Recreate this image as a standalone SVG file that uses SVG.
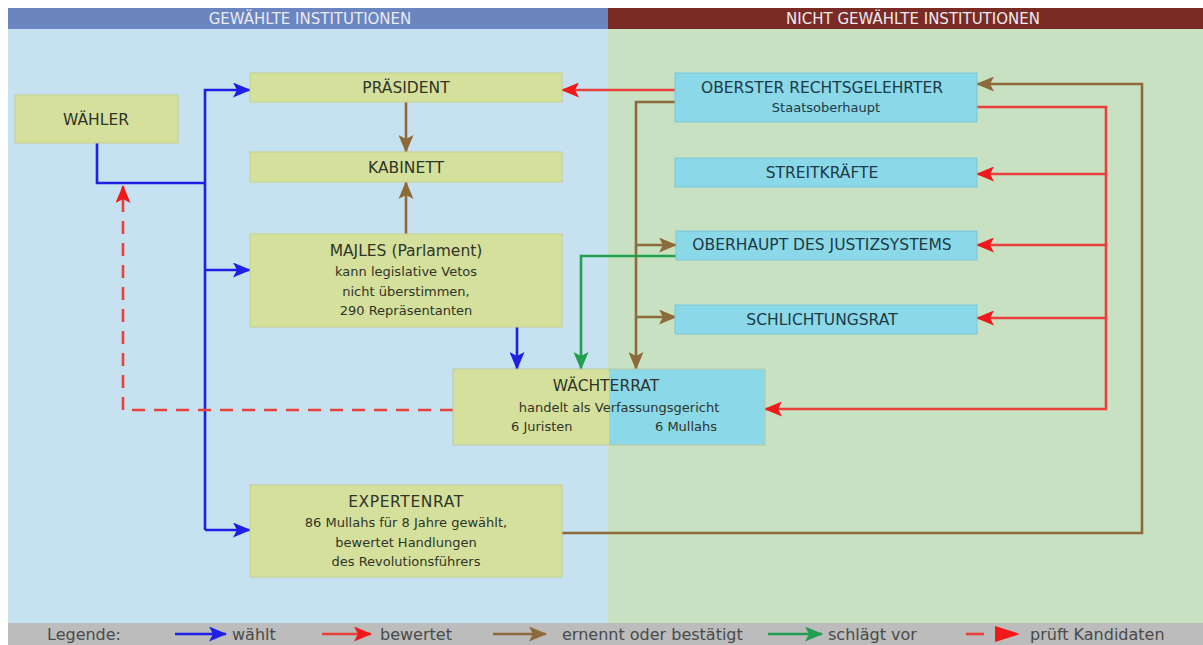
<svg xmlns="http://www.w3.org/2000/svg" width="1203" height="645" viewBox="0 0 1203 645">
<style>
  text { font-family: "DejaVu Sans", "Liberation Sans", sans-serif; }
  .ttl { font-size: 15.5px; fill: #2f3529; text-anchor: middle; }
  .sub { font-size: 13px; fill: #2f3529; text-anchor: middle; }
  .ttlc { font-size: 15.5px; fill: #1d3a46; text-anchor: middle; }
  .subc { font-size: 13px; fill: #1d3a46; text-anchor: middle; }
  .hdr { font-size: 15px; fill: #eceaf2; text-anchor: middle; }
  .leg { font-size: 16px; fill: #4a4a4a; }
  .ybox { fill: #d5e09c; stroke: #c6d08c; stroke-width: 1; }
  .cbox { fill: #8ad8e8; stroke: #7cc6d6; stroke-width: 1; }
  .c { fill: none; stroke-width: 2.6; }
  .blue { stroke: #1f1fe6; }
  .red { stroke: #e8403a; }
  .brown { stroke: #8c6a3a; }
  .green { stroke: #22a050; }
</style>
<defs>
  <marker id="ab" viewBox="0 0 18 15" markerWidth="18" markerHeight="15" refX="17" refY="7.5" orient="auto" markerUnits="userSpaceOnUse"><path d="M0,0 L18,7.5 L0,15 L4,7.5 Z" fill="#1f1fe6"/></marker>
  <marker id="ar" viewBox="0 0 18 15" markerWidth="18" markerHeight="15" refX="17" refY="7.5" orient="auto" markerUnits="userSpaceOnUse"><path d="M0,0 L18,7.5 L0,15 L4,7.5 Z" fill="#f01818"/></marker>
  <marker id="an" viewBox="0 0 18 15" markerWidth="18" markerHeight="15" refX="17" refY="7.5" orient="auto" markerUnits="userSpaceOnUse"><path d="M0,0 L18,7.5 L0,15 L4,7.5 Z" fill="#8c6a3a"/></marker>
  <marker id="ag" viewBox="0 0 18 15" markerWidth="18" markerHeight="15" refX="17" refY="7.5" orient="auto" markerUnits="userSpaceOnUse"><path d="M0,0 L18,7.5 L0,15 L4,7.5 Z" fill="#22a050"/></marker>
</defs>

<rect x="0" y="0" width="1203" height="645" fill="#ffffff"/>
<g id="background">
  <rect x="8" y="29" width="600" height="594" fill="#c6e2f0"/>
  <rect x="608" y="29" width="595" height="594" fill="#c9e1c3"/>
  <rect x="8" y="8" width="600" height="21" fill="#6a85c0"/>
  <rect x="608" y="8" width="595" height="21" fill="#7a2b23"/>
  <text class="hdr" x="310" y="24">GEWÄHLTE INSTITUTIONEN</text>
  <text class="hdr" x="913" y="24">NICHT GEWÄHLTE INSTITUTIONEN</text>
</g>

<g id="connectors">
  <!-- blue: wählt -->
  <path class="c blue" d="M97,143 V183 H205"/>
  <path class="c blue" d="M205,530 V90 H250" marker-end="url(#ab)"/>
  <path class="c blue" d="M205,270 H250" marker-end="url(#ab)"/>
  <path class="c blue" d="M205,530 H250" marker-end="url(#ab)"/>
  <path class="c blue" d="M517,327 V369" marker-end="url(#ab)"/>
  <!-- red dashed: prüft Kandidaten -->
  <path class="c red" d="M453,410 H123 V186" stroke-dasharray="13,9" stroke-width="3" marker-end="url(#ar)"/>
  <!-- brown: ernennt -->
  <path class="c brown" d="M406,102 V152" marker-end="url(#an)"/>
  <path class="c brown" d="M406,234 V182" marker-end="url(#an)"/>
  <path class="c brown" d="M675,102 H636 V369" marker-end="url(#an)"/>
  <path class="c brown" d="M636,245 H676" marker-end="url(#an)"/>
  <path class="c brown" d="M636,317 H676" marker-end="url(#an)"/>
  <path class="c brown" d="M562,533 H1142 V84 H977" marker-end="url(#an)"/>
  <!-- red: bewertet -->
  <path class="c red" d="M675,90 H562" marker-end="url(#ar)"/>
  <path class="c red" d="M977,107 H1106 V409 H765" marker-end="url(#ar)"/>
  <path class="c red" d="M1106,174 H977" marker-end="url(#ar)"/>
  <path class="c red" d="M1106,245 H977" marker-end="url(#ar)"/>
  <path class="c red" d="M1106,318 H977" marker-end="url(#ar)"/>
  <!-- green: schlägt vor -->
  <path class="c green" d="M676,256 H581 V369" marker-end="url(#ag)"/>
</g>

<g id="waehler">
  <rect class="ybox" x="15" y="95" width="163" height="48"/>
  <text class="ttl" x="96" y="125">WÄHLER</text>
</g>
<g id="praesident">
  <rect class="ybox" x="250" y="73" width="312" height="29"/>
  <text class="ttl" x="406" y="93">PRÄSIDENT</text>
</g>
<g id="kabinett">
  <rect class="ybox" x="250" y="152" width="312" height="30"/>
  <text class="ttl" x="406" y="173">KABINETT</text>
</g>
<g id="majles">
  <rect class="ybox" x="250" y="234" width="312" height="93"/>
  <text class="ttl" x="406" y="256">MAJLES (Parlament)</text>
  <text class="sub" x="406" y="276">kann legislative Vetos</text>
  <text class="sub" x="406" y="296">nicht überstimmen,</text>
  <text class="sub" x="406" y="315">290 Repräsentanten</text>
</g>
<g id="waechterrat">
  <rect x="453" y="369" width="156" height="76" fill="#d5e09c"/>
  <rect x="609" y="369" width="156" height="76" fill="#8ad8e8"/>
  <rect x="453" y="369" width="312" height="76" fill="none" stroke="#b8c8a0" stroke-width="1"/>
  <text class="ttl" x="606" y="391">WÄCHTERRAT</text>
  <text class="sub" x="619" y="412">handelt als Verfassungsgericht</text>
  <text class="sub" x="511" y="431" style="text-anchor:start">6 Juristen</text>
  <text class="sub" x="655" y="431" style="text-anchor:start">6 Mullahs</text>
</g>
<g id="expertenrat">
  <rect class="ybox" x="250" y="485" width="312" height="92"/>
  <text class="ttl" x="406" y="507" letter-spacing="0.6">EXPERTENRAT</text>
  <text class="sub" x="406" y="527">86 Mullahs für 8 Jahre gewählt,</text>
  <text class="sub" x="406" y="547">bewertet Handlungen</text>
  <text class="sub" x="406" y="566">des Revolutionsführers</text>
</g>
<g id="oberster">
  <rect class="cbox" x="675" y="73" width="302" height="49"/>
  <text class="ttlc" x="822" y="93">OBERSTER RECHTSGELEHRTER</text>
  <text class="subc" x="826" y="112">Staatsoberhaupt</text>
</g>
<g id="streitkraefte">
  <rect class="cbox" x="675" y="158" width="302" height="29"/>
  <text class="ttlc" x="822" y="178">STREITKRÄFTE</text>
</g>
<g id="justiz">
  <rect class="cbox" x="676" y="231" width="301" height="29"/>
  <text class="ttlc" x="822" y="250">OBERHAUPT DES JUSTIZSYSTEMS</text>
</g>
<g id="schlichtungsrat">
  <rect class="cbox" x="675" y="305" width="302" height="29"/>
  <text class="ttlc" x="822" y="325">SCHLICHTUNGSRAT</text>
</g>

<g id="legend">
  <rect x="8" y="623" width="1195" height="22" fill="#bcbcbc"/>
  <text class="leg" x="47" y="640">Legende:</text>
  <path class="c blue" d="M175,634 H226" stroke-width="3" marker-end="url(#ab)"/>
  <text class="leg" x="232" y="640">wählt</text>
  <path class="c red" d="M322,634 H371" stroke-width="3" marker-end="url(#ar)"/>
  <text class="leg" x="380" y="640">bewertet</text>
  <path class="c brown" d="M493,634 H546" stroke-width="3" marker-end="url(#an)"/>
  <text class="leg" x="562" y="640">ernennt oder bestätigt</text>
  <path class="c green" d="M768,634 H822" stroke-width="3" marker-end="url(#ag)"/>
  <text class="leg" x="828" y="640">schlägt vor</text>
  <path class="c red" d="M966,634 H984" stroke-width="3"/>
  <path d="M995,626 L1020,634 L995,642 Z" fill="#f01818"/>
  <text class="leg" x="1030" y="640">prüft Kandidaten</text>
</g>
</svg>
